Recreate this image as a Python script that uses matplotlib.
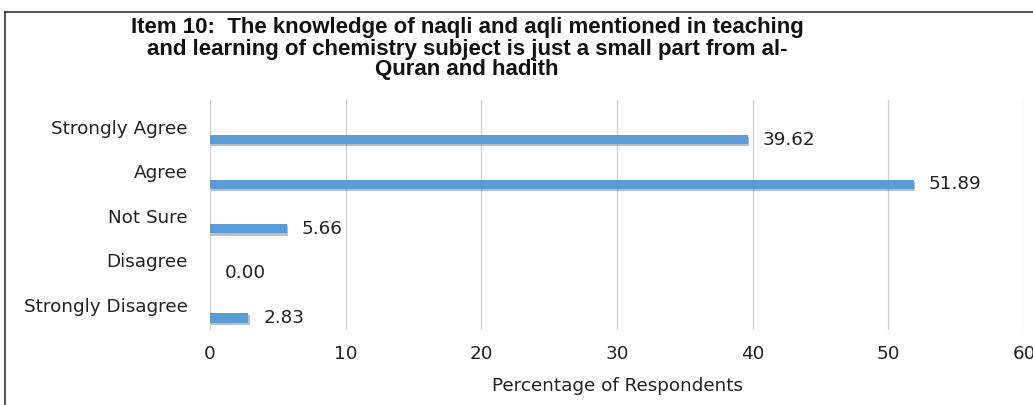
import matplotlib
matplotlib.use("Agg")
import matplotlib.pyplot as plt
import matplotlib.patheffects as pe
from matplotlib.lines import Line2D
import numpy as np

categories = ["Strongly Agree", "Agree", "Not Sure", "Disagree", "Strongly Disagree"]
values = [39.62, 51.89, 5.66, 0.00, 2.83]
xticks = [0, 10, 20, 30, 40, 50, 60]
title = ("Item 10:  The knowledge of naqli and aqli mentioned in teaching\n"
         "and learning of chemistry subject is just a small part from al-\n"
         "Quran and hadith")
xlabel = "Percentage of Respondents"

W, H = 1033, 405
fig = plt.figure(figsize=(W / 100, H / 100), dpi=100)
fig.patch.set_facecolor("white")

font = ["DejaVu Sans"]
fs = 13.2

ax = fig.add_axes([210 / W, 1 - 330 / H, (1024 - 210) / W, (330 - 100) / H])
pos = np.arange(len(categories))
bar_off = 0.29
ax.barh(pos + bar_off, values, height=0.21, color="#5B9BD5",
        path_effects=[pe.SimplePatchShadow(offset=(1, -1.5), alpha=0.3), pe.Normal()],
        zorder=3)
for p, v in zip(pos, values):
    ax.text(v + 1.1, p + bar_off, f"{v:.2f}", va="center", ha="left",
            fontsize=fs, family=font, color="#222222")

ax.set_xlim(0, 60)
ax.set_ylim(4.56, -0.6)
ax.set_xticks(xticks)
ax.set_xticklabels([str(t) for t in xticks], family=font, fontsize=fs, color="#222222")
ax.set_yticks(pos)
ax.set_yticklabels(categories, family=font, fontsize=fs, color="#222222")
ax.tick_params(axis="both", length=0)
ax.tick_params(axis="x", pad=11)
ax.tick_params(axis="y", pad=16)
ax.grid(axis="x", color="#d0d0d0", linewidth=1, zorder=0)
for s in ax.spines.values():
    s.set_visible(False)
ax.set_xlabel(xlabel, family=font, fontsize=fs, color="#222222", labelpad=10)

fig.text(467 / W, 1 - 49 / H, title, ha="center", va="center",
         family=["Liberation Sans"], fontweight="bold",
         fontsize=16, linespacing=1.0, color="#111111")

fig.add_artist(Line2D([5 / W, 1], [1 - 12 / H, 1 - 12 / H], transform=fig.transFigure,
                      color="#333333", linewidth=1.2))
fig.add_artist(Line2D([5 / W, 5 / W], [0, 1 - 12 / H], transform=fig.transFigure,
                      color="#333333", linewidth=1.2))

fig.savefig("out.png", dpi=100)
